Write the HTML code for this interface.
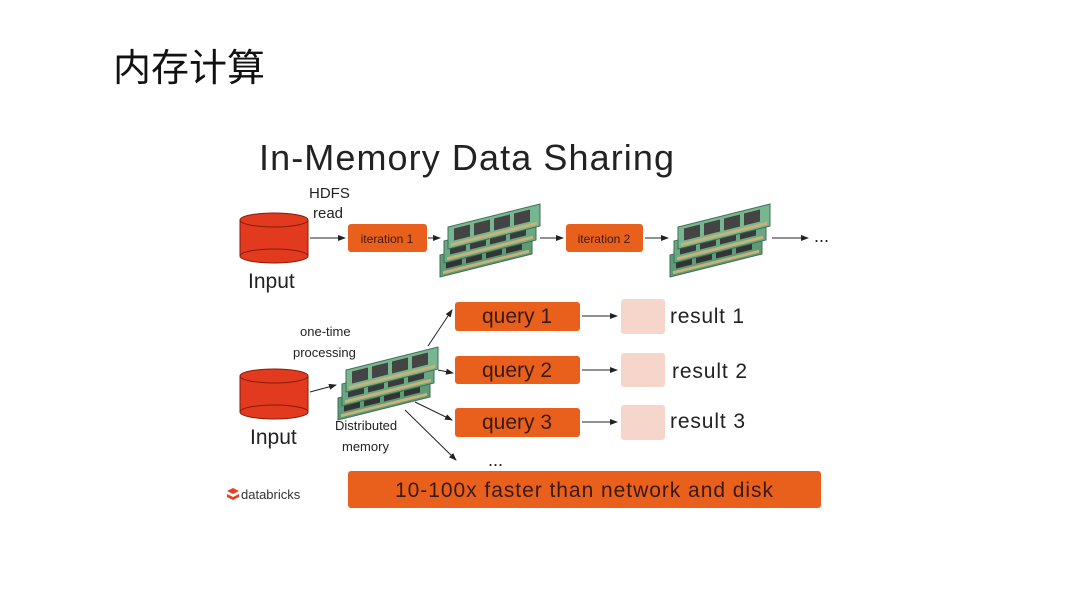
<!DOCTYPE html>
<html><head><meta charset="utf-8"><style>
body{margin:0;background:#fff;}
svg text{font-family:"Liberation Sans","Noto Sans CJK SC",sans-serif;}
</style></head><body>
<svg width="1080" height="607" viewBox="0 0 1080 607" xmlns="http://www.w3.org/2000/svg">
<defs>
<marker id="a" markerWidth="8" markerHeight="6" refX="7" refY="3" orient="auto"><path d="M0,0 L8,3 L0,6 Z" fill="#222"/></marker>
<g id="ram">
 <g transform="skewY(-14)">
  <rect x="0" y="40" width="92" height="22" fill="#5d9a78" stroke="#3e6e52"/>
  <rect x="3" y="57" width="86" height="3" fill="#c9b27a"/>
  <rect x="6" y="43" width="16" height="12" fill="#333"/><rect x="26" y="43" width="16" height="12" fill="#333"/><rect x="46" y="43" width="16" height="12" fill="#333"/><rect x="66" y="43" width="16" height="12" fill="#333"/>
 </g>
 <g transform="translate(4,-14) skewY(-14)">
  <rect x="0" y="40" width="92" height="22" fill="#6aa884" stroke="#3e6e52"/>
  <rect x="3" y="57" width="86" height="3" fill="#c9b27a"/>
  <rect x="6" y="43" width="16" height="12" fill="#3a3a3a"/><rect x="26" y="43" width="16" height="12" fill="#3a3a3a"/><rect x="46" y="43" width="16" height="12" fill="#3a3a3a"/><rect x="66" y="43" width="16" height="12" fill="#3a3a3a"/>
 </g>
 <g transform="translate(8,-28) skewY(-14)">
  <rect x="0" y="40" width="92" height="22" fill="#78b690" stroke="#3e6e52"/>
  <rect x="3" y="57" width="86" height="3" fill="#c9b27a"/>
  <rect x="6" y="43" width="16" height="12" fill="#444"/><rect x="26" y="43" width="16" height="12" fill="#444"/><rect x="46" y="43" width="16" height="12" fill="#444"/><rect x="66" y="43" width="16" height="12" fill="#444"/>
 </g>
</g>
<g id="cyl">
 <path d="M0,8 L0,44 A34,7 0 0 0 68,44 L68,8" fill="#e13a1e" stroke="#8a1a08"/>
 <ellipse cx="34" cy="8" rx="34" ry="7" fill="#e13a1e" stroke="#8a1a08"/>
 <path d="M0,44 A34,7 0 0 1 68,44" fill="none" stroke="#8a1a08"/>
</g>
</defs>
<text x="113" y="81" font-size="38" fill="#111" textLength="152">内存计算</text>
<text x="259" y="170" font-size="36" fill="#222" textLength="415">In-Memory Data Sharing</text>

<use href="#cyl" x="240" y="212"/>
<text x="248" y="288" font-size="21" fill="#222">Input</text>
<text x="309" y="198" font-size="15" fill="#222">HDFS</text>
<text x="313" y="218" font-size="15" fill="#222">read</text>
<line x1="310" y1="238" x2="345" y2="238" stroke="#222" marker-end="url(#a)"/>
<rect x="348" y="224" width="79" height="28" rx="3" fill="#e8601c"/>
<text x="387" y="243" font-size="12" fill="#3a1a10" text-anchor="middle">iteration 1</text>
<line x1="428" y1="238" x2="440" y2="238" stroke="#222" marker-end="url(#a)"/>
<use href="#ram" x="440" y="215"/>
<line x1="540" y1="238" x2="563" y2="238" stroke="#222" marker-end="url(#a)"/>
<rect x="566" y="224" width="77" height="28" rx="3" fill="#e8601c"/>
<text x="604" y="243" font-size="12" fill="#3a1a10" text-anchor="middle">iteration 2</text>
<line x1="645" y1="238" x2="668" y2="238" stroke="#222" marker-end="url(#a)"/>
<use href="#ram" x="670" y="215"/>
<line x1="772" y1="238" x2="808" y2="238" stroke="#222" marker-end="url(#a)"/>
<text x="814" y="242" font-size="18" fill="#222">...</text>

<use href="#cyl" x="240" y="368"/>
<text x="250" y="444" font-size="21" fill="#222">Input</text>
<text x="300" y="336" font-size="13" fill="#222">one-time</text>
<text x="293" y="357" font-size="13" fill="#222">processing</text>
<line x1="310" y1="392" x2="336" y2="385" stroke="#222" marker-end="url(#a)"/>
<use href="#ram" x="338" y="358"/>
<text x="335" y="430" font-size="13" fill="#222">Distributed</text>
<text x="342" y="451" font-size="13" fill="#222">memory</text>
<line x1="428" y1="346" x2="452" y2="310" stroke="#222" marker-end="url(#a)"/>
<line x1="438" y1="370" x2="453" y2="373" stroke="#222" marker-end="url(#a)"/>
<line x1="415" y1="402" x2="452" y2="420" stroke="#222" marker-end="url(#a)"/>
<line x1="405" y1="410" x2="456" y2="460" stroke="#222" marker-end="url(#a)"/>

<rect x="455" y="302" width="125" height="29" rx="3" fill="#e8601c"/>
<text x="517" y="323" font-size="21" fill="#3a1a10" text-anchor="middle">query 1</text>
<rect x="455" y="356" width="125" height="28" rx="3" fill="#e8601c"/>
<text x="517" y="377" font-size="21" fill="#3a1a10" text-anchor="middle">query 2</text>
<rect x="455" y="408" width="125" height="29" rx="3" fill="#e8601c"/>
<text x="517" y="429" font-size="21" fill="#3a1a10" text-anchor="middle">query 3</text>
<line x1="582" y1="316" x2="617" y2="316" stroke="#222" marker-end="url(#a)"/>
<line x1="582" y1="370" x2="617" y2="370" stroke="#222" marker-end="url(#a)"/>
<line x1="582" y1="422" x2="617" y2="422" stroke="#222" marker-end="url(#a)"/>
<rect x="621" y="299" width="44" height="35" rx="3" fill="#f6d5cb"/>
<rect x="621" y="353" width="44" height="34" rx="3" fill="#f6d5cb"/>
<rect x="621" y="405" width="44" height="35" rx="3" fill="#f6d5cb"/>
<text x="670" y="323" font-size="21" fill="#222" textLength="74">result 1</text>
<text x="672" y="378" font-size="21" fill="#222" textLength="75">result 2</text>
<text x="670" y="428" font-size="21" fill="#222" textLength="75">result 3</text>
<text x="488" y="466" font-size="18" fill="#222">...</text>

<rect x="348" y="471" width="473" height="37" rx="3" fill="#e8601c"/>
<text x="584" y="497" font-size="21" fill="#3a1a10" text-anchor="middle" textLength="378">10-100x faster than network and disk</text>

<path d="M227,491 l6,-3 l6,3 l-6,3z M227,494 l6,3 l6,-3 v3 l-6,3 l-6,-3z" fill="#e8401c"/>
<text x="241" y="499" font-size="13" fill="#333">databricks</text>
</svg>
</body></html>
